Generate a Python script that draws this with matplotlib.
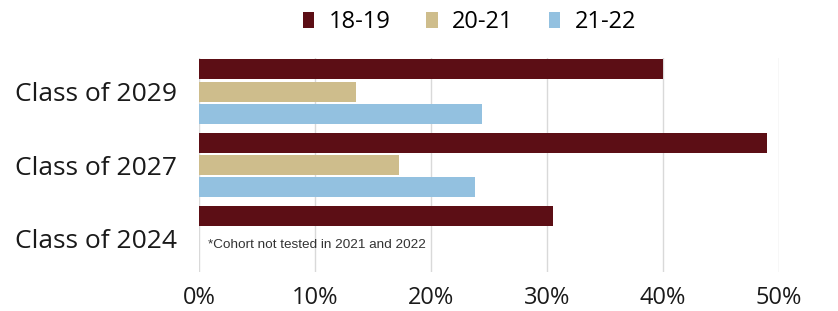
import matplotlib
matplotlib.use("Agg")
import matplotlib.pyplot as plt
import numpy as np
from matplotlib.patches import Patch
from matplotlib.ticker import FuncFormatter

categories = ["Class of 2029", "Class of 2027", "Class of 2024"]
series = ["18-19", "20-21", "21-22"]
v_18_19 = [40.0, 49.0, 30.5]
v_20_21 = [13.5, 17.2, np.nan]
v_21_22 = [24.4, 23.8, np.nan]
xticks = [0, 10, 20, 30, 40, 50]
colors = ["#5C0E15", "#CEBD8C", "#93C1E0"]
footnote = "*Cohort not tested in 2021 and 2022"

fig = plt.figure(figsize=(8.38, 3.11), dpi=100)
ax = fig.add_axes([0.2375, 0.1254, 0.6921, 0.6878])

y = np.arange(len(categories))
pitch = 0.305
h = 0.272
for i, (vals, c) in enumerate(zip([v_18_19, v_20_21, v_21_22], colors)):
    ax.barh(y + (i - 1) * pitch, vals, height=h, color=c, edgecolor="none", zorder=3)

ax.set_ylim(2.458, -0.458)
ax.set_xlim(0, 50)
ax.set_yticks(y)
ax.set_yticklabels(categories, fontsize=19, family="Open Sans", color="#1a1a1a")
ax.set_xticks(xticks)
ax.xaxis.set_major_formatter(FuncFormatter(lambda v, p: f"{int(v)}%"))
for lab in ax.get_xticklabels():
    lab.set_fontsize(17)
    lab.set_family("Open Sans")
    lab.set_color("#1a1a1a")
ax.tick_params(axis="both", length=0)
ax.tick_params(axis="x", pad=10)
ax.tick_params(axis="y", pad=16)
ax.grid(axis="x", color="#d9d9d9", linewidth=1.0, zorder=0)
for s in ax.spines.values():
    s.set_visible(False)

ax.text(0.8, 2.09, footnote, fontsize=9.7,
        family="Liberation Sans", color="#333333", va="center", ha="left")

handles = [Patch(facecolor=c, edgecolor="none") for c in colors]
fig.legend(handles, series, loc="center", bbox_to_anchor=(0.56, 0.928), ncol=3,
           frameon=False, prop={"family": "Open Sans", "size": 17},
           handlelength=0.5, handleheight=0.7, handletextpad=0.6, columnspacing=1.5)

fig.savefig("out.png", dpi=100)
